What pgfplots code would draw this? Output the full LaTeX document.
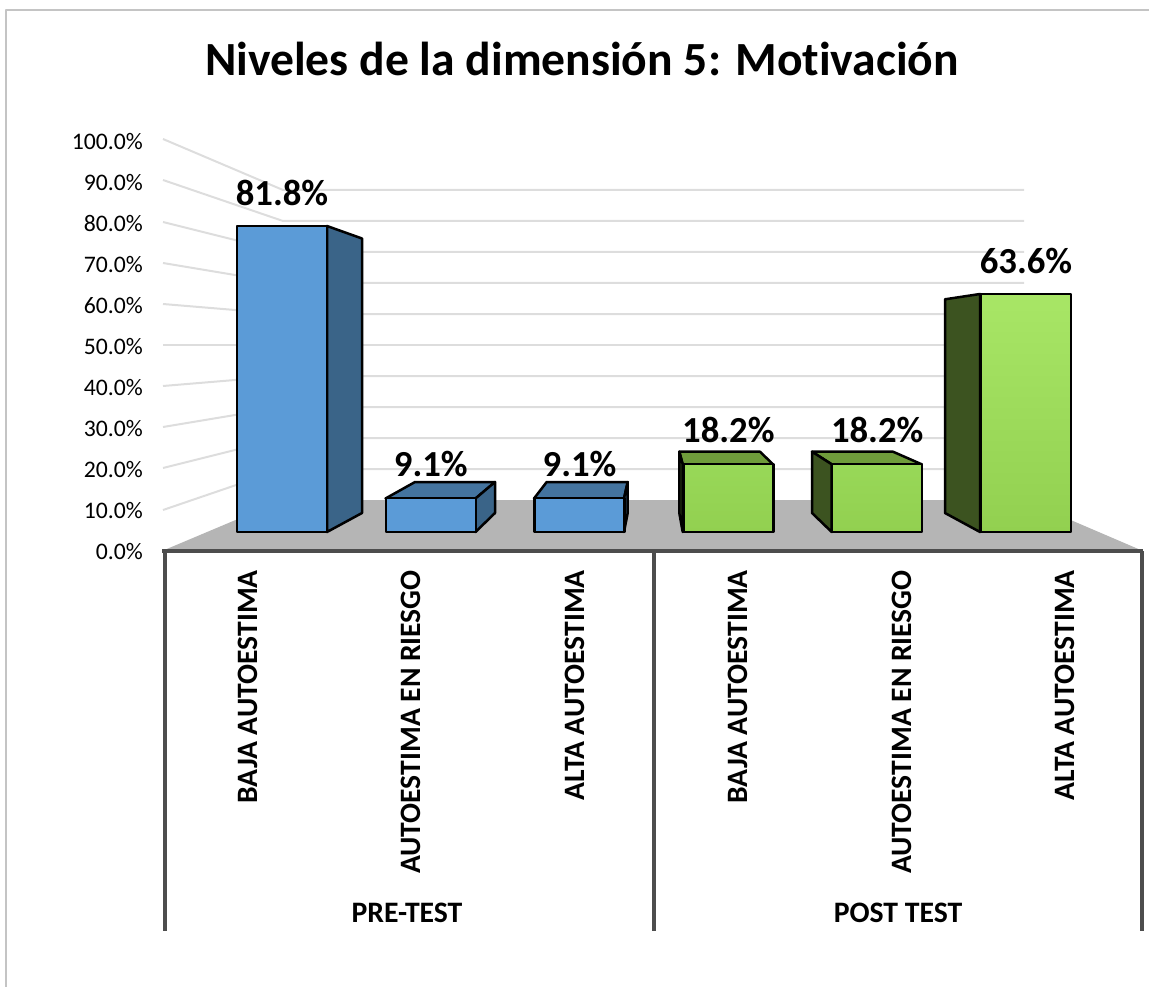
\documentclass[border=0pt]{standalone}
\usepackage{fontspec}
\setmainfont{Carlito}[Ligatures=NoCommon]
\usepackage{pgfplots}
\pgfplotsset{compat=1.18}
\definecolor{gridc}{HTML}{DDDDDD}
\definecolor{floorc}{HTML}{B5B5B5}
\definecolor{axisc}{HTML}{4D4D4D}
\definecolor{frameC}{HTML}{C4C4C4}
\definecolor{bfront}{HTML}{5B9BD7}
\definecolor{bside}{HTML}{3A6488}
\definecolor{btop}{HTML}{44749F}
\definecolor{gside}{HTML}{3C5320}
\definecolor{gtop}{HTML}{6F9C3B}
\definecolor{gA}{HTML}{A8E666}
\definecolor{gB}{HTML}{92D050}
\definecolor{gC}{HTML}{98D858}
\begin{document}
\begin{tikzpicture}[x=1pt,y=1pt,line join=round]
\path[use as bounding box] (0,0) rectangle (1149,987);
% decoration axis: picture coordinates
\begin{axis}[at={(0,0)},anchor=south west,scale only axis,width=1149pt,height=987pt,
  xmin=0,xmax=1149,ymin=0,ymax=987,y dir=reverse,hide axis,clip=false]
\addplot[frameC,line width=2pt] coordinates {(6,987) (6,10.5) (1149,10.5)};
% floor
\addplot[fill=floorc,draw=none] coordinates {(162,551) (283,500) (1024,500) (1143,551)} -- cycle;
% gridlines
\addplot[gridc,line width=2pt] coordinates {(163,139) (283,190) (1024,190)};
\addplot[gridc,line width=2pt] coordinates {(163,180) (283,221) (1024,221)};
\addplot[gridc,line width=2pt] coordinates {(163,222) (283,252) (1024,252)};
\addplot[gridc,line width=2pt] coordinates {(163,263) (283,283) (1024,283)};
\addplot[gridc,line width=2pt] coordinates {(163,304) (283,314) (1024,314)};
\addplot[gridc,line width=2pt] coordinates {(163,345) (283,345) (1024,345)};
\addplot[gridc,line width=2pt] coordinates {(163,386) (283,376) (1024,376)};
\addplot[gridc,line width=2pt] coordinates {(163,427) (283,407) (1024,407)};
\addplot[gridc,line width=2pt] coordinates {(163,468) (283,438) (1024,438)};
\addplot[gridc,line width=2pt] coordinates {(163,510) (283,469) (1024,469)};
% axis lines
\addplot[axisc,line width=3.5pt] coordinates {(162,551) (1143,551)};
\addplot[axisc,line width=3.5pt] coordinates {(165,551) (165,931)};
\addplot[axisc,line width=3.5pt] coordinates {(654,551) (654,931)};
\addplot[axisc,line width=3.5pt] coordinates {(1142,551) (1142,931)};
% bar depth faces
\addplot[fill=bside,draw=black,line width=2.5pt] coordinates {(327,226) (362,238.5) (362,513) (327,532)} -- cycle;
\addplot[fill=btop,draw=black,line width=2.5pt] coordinates {(385.5,498.5) (415,482) (495,482) (475.5,498.5)} -- cycle;
\addplot[fill=bside,draw=black,line width=2.5pt] coordinates {(475.5,498.5) (495,482) (495,513) (475.5,532)} -- cycle;
\addplot[fill=btop,draw=black,line width=2.5pt] coordinates {(534,498.5) (546.7,482) (627.7,482) (624,498.5)} -- cycle;
\addplot[fill=bside,draw=black,line width=2.5pt] coordinates {(624,498.5) (627.7,482) (627.7,513) (624,532)} -- cycle;
\addplot[fill=gtop,draw=black,line width=2.5pt] coordinates {(682.7,464.3) (679.3,451.7) (760,451.7) (773,464.3)} -- cycle;
\addplot[fill=gside,draw=black,line width=2.5pt] coordinates {(682.7,464.3) (679.3,451.7) (679.3,513) (682.7,532)} -- cycle;
\addplot[fill=gtop,draw=black,line width=2.5pt] coordinates {(831.7,464.3) (812,451.7) (893,451.7) (921.7,464.3)} -- cycle;
\addplot[fill=gside,draw=black,line width=2.5pt] coordinates {(831.7,464.3) (812,451.7) (812,513) (831.7,532)} -- cycle;
\addplot[fill=gside,draw=black,line width=2.5pt] coordinates {(980,294) (945,299.3) (945,513) (980,532)} -- cycle;
% texts
\node[anchor=base,inner sep=0pt,font=\fontsize{47.6}{50}\selectfont\bfseries] at (axis cs:582,76) {Niveles de la dimensión 5: Motivación};
\node[anchor=base,inner sep=0pt,font=\fontsize{29.7}{32}\selectfont\bfseries] at (axis cs:407,922) {PRE-TEST};
\node[anchor=base,inner sep=0pt,font=\fontsize{29.7}{32}\selectfont\bfseries] at (axis cs:898,922) {POST TEST};
\end{axis}
% value axis and category labels
\begin{axis}[at={(162pt,435pt)},anchor=south west,scale only axis,width=981pt,height=410pt,
  xmin=-0.5,xmax=5.5,ymin=0,ymax=100,
  axis line style={draw=none},tick style={draw=none},major tick length=0pt,
  axis x line*=bottom,axis y line*=left,
  ytick={0,10,...,100},
  yticklabels={0.0\%,10.0\%,20.0\%,30.0\%,40.0\%,50.0\%,60.0\%,70.0\%,80.0\%,90.0\%,100.0\%},
  yticklabel style={anchor=east,inner sep=0pt,xshift=-19pt,font=\fontsize{23.7}{26}\selectfont},
  xtick={0,1,2,3,4,5},
  xticklabels={BAJA AUTOESTIMA,AUTOESTIMA EN RIESGO,ALTA AUTOESTIMA,BAJA AUTOESTIMA,AUTOESTIMA EN RIESGO,ALTA AUTOESTIMA},
  xticklabel style={rotate=90,anchor=east,inner sep=0pt,xshift=-18pt,yshift=-4pt,font=\fontsize{29.6}{32}\selectfont\bfseries},
  clip=false]
\addplot[draw=none] coordinates {(0,0) (5,100)};
\end{axis}
% bars
\begin{axis}[at={(207.6pt,455pt)},anchor=south west,scale only axis,width=892.8pt,height=374pt,
  xmin=-0.5,xmax=5.5,ymin=0,ymax=100,hide axis,clip=false,
  ybar=0pt,bar width=90pt,bar shift=0pt,
  point meta=y,
  nodes near coords={\pgfmathprintnumber[fixed,fixed zerofill,precision=1,assume math mode=true]{\pgfplotspointmeta}\%},
  nodes near coords style={anchor=base,inner sep=0pt,yshift=21pt,font=\fontsize{36.7}{40}\selectfont\bfseries,text=black}]
\addplot[fill=bfront,draw=black,line width=2.5pt,bar shift=0pt] coordinates {(0,81.8) (1,9.1) (2,9.1)};
\addplot[top color=gC,bottom color=gB,draw=black,line width=2.5pt,bar shift=0pt] coordinates {(3,18.2) (4,18.2)};
\addplot[top color=gA,bottom color=gB,draw=black,line width=2.5pt,bar shift=0pt] coordinates {(5,63.6)};
\end{axis}
\end{tikzpicture}
\end{document}
